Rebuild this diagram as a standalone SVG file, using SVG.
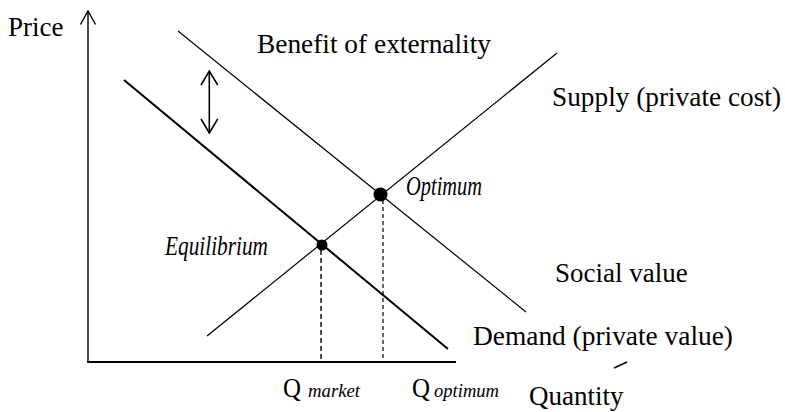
<svg xmlns="http://www.w3.org/2000/svg" width="785" height="412" viewBox="0 0 785 412">
<style>
.t{font-family:"Liberation Serif","Times New Roman",serif;font-size:27px;fill:#000}
.i{font-style:italic}
.s{font-size:19px}
.ln{stroke:#000;fill:none;stroke-linecap:butt}
</style>
<rect width="785" height="412" fill="#fff"/>
<g id="axes">
<line class="ln" x1="88" y1="11" x2="88" y2="362" stroke-width="1.4"/>
<polyline class="ln" points="80.5,24.5 88,11 95.5,24.5" stroke-width="1.4"/>
<line class="ln" x1="87.3" y1="362" x2="456" y2="362" stroke-width="2"/>
</g>
<g id="connectors">
<line id="demand" class="ln" x1="124" y1="80" x2="448" y2="349" stroke-width="2"/>
<line id="social" class="ln" x1="178" y1="31" x2="526" y2="312" stroke-width="1.2"/>
<line id="supply" class="ln" x1="207" y1="336" x2="557" y2="53" stroke-width="1.2"/>
<line class="ln" x1="321" y1="250" x2="321" y2="362" stroke-width="1.4" stroke-dasharray="5,3"/>
<line class="ln" x1="383" y1="200" x2="383" y2="362" stroke-width="1.2" stroke-dasharray="4,3"/>
<g id="double-arrow">
<line class="ln" x1="209.3" y1="71" x2="209.3" y2="133" stroke-width="1.6"/>
<polyline class="ln" points="201,85 209.3,71 217.7,85" stroke-width="1.6"/>
<polyline class="ln" points="201,119 209.3,133 217.7,119" stroke-width="1.6"/>
</g>
<line class="ln" x1="614" y1="368" x2="627" y2="362" stroke-width="1.4"/>
</g>
<g id="equilibrium">
<circle cx="322" cy="245" r="5.5" fill="#000"/>
<text class="t i" x="165" y="255" font-size="26" textLength="103" lengthAdjust="spacingAndGlyphs">Equilibrium</text>
</g>
<g id="optimum">
<circle cx="380.5" cy="194.5" r="7" fill="#000"/>
<text class="t i" x="406" y="195" font-size="26" textLength="76" lengthAdjust="spacingAndGlyphs">Optimum</text>
</g>
<g id="labels">
<text class="t" x="8" y="36">Price</text>
<text class="t" x="257" y="53" textLength="234" lengthAdjust="spacingAndGlyphs">Benefit of externality</text>
<text class="t" x="552" y="106" textLength="229" lengthAdjust="spacingAndGlyphs">Supply (private cost)</text>
<text class="t" x="555" y="282">Social value</text>
<text class="t" x="473" y="345" textLength="260" lengthAdjust="spacingAndGlyphs">Demand (private value)</text>
<text class="t" x="529" y="405">Quantity</text>
<text class="t" x="283" y="397" textLength="18" lengthAdjust="spacingAndGlyphs">Q</text>
<text class="t i s" x="308" y="397" textLength="52" lengthAdjust="spacingAndGlyphs">market</text>
<text class="t" x="412" y="397" textLength="18" lengthAdjust="spacingAndGlyphs">Q</text>
<text class="t i s" x="434" y="397" textLength="65" lengthAdjust="spacingAndGlyphs">optimum</text>
</g>
</svg>
